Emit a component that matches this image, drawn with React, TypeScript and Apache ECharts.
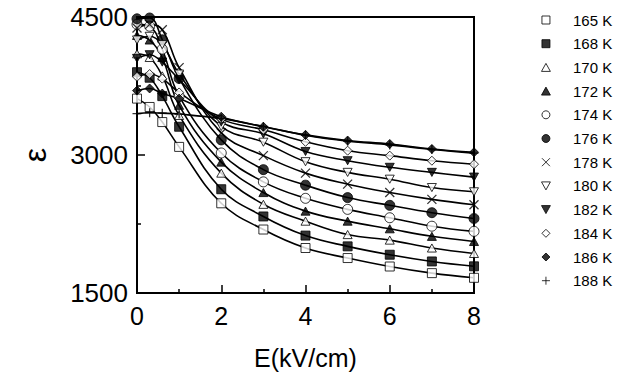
import React, { useEffect, useRef } from 'react';
import * as echarts from 'echarts';

// Field values (kV/cm) at which the permittivity was measured
const fieldValues = [0, 0.3, 0.6, 1, 2, 3, 4, 5, 6, 7, 8];

// Temperature labels
const temperatures = ['165 K', '168 K', '170 K', '172 K', '174 K', '176 K', '178 K', '180 K', '182 K', '184 K', '186 K', '188 K'];

// Permittivity values, one array per temperature
const eps165 = [3613, 3522, 3358, 3088, 2475, 2190, 1989, 1880, 1788, 1716, 1665];
const eps168 = [3900, 3840, 3640, 3307, 2628, 2332, 2124, 2007, 1916, 1843, 1790];
const eps170 = [4100, 4060, 3860, 3430, 2803, 2464, 2281, 2135, 2075, 1989, 1930];
const eps172 = [4300, 4250, 4060, 3540, 2923, 2592, 2390, 2281, 2198, 2116, 2060];
const eps174 = [4420, 4400, 4150, 3640, 3022, 2708, 2529, 2409, 2318, 2226, 2170];
const eps176 = [4480, 4489, 4252, 3832, 3164, 2841, 2672, 2537, 2453, 2373, 2310];
const eps178 = [4380, 4420, 4362, 3950, 3240, 2993, 2803, 2683, 2592, 2518, 2460];
const eps180 = [4250, 4290, 4200, 3880, 3310, 3139, 2927, 2811, 2737, 2646, 2600];
const eps182 = [4050, 4090, 4010, 3820, 3360, 3230, 3038, 2938, 2866, 2811, 2760];
const eps184 = [3850, 3880, 3830, 3680, 3390, 3274, 3143, 3047, 2993, 2938, 2900];
const eps186 = [3700, 3723, 3668, 3613, 3416, 3307, 3219, 3157, 3120, 3066, 3030];
const eps188 = [3450, 3460, 3455, 3445, 3395, 3310, 3215, 3150, 3110, 3060, 3020];

const allEps = [eps165, eps168, eps170, eps172, eps174, eps176, eps178, eps180, eps182, eps184, eps186, eps188];

// Marker symbols
const SQUARE = 'path://M0,0L10,0L10,10L0,10Z';
const TRI_UP = 'path://M5,0L10,9L0,9Z';
const TRI_DOWN = 'path://M0,0L10,0L5,9Z';
const DIAMOND = 'path://M5,0L10,5L5,10L0,5Z';
const CROSS = 'path://M0,0L10,10M10,0L0,10';
const PLUS = 'path://M5,0L5,10M0,5L10,5';
const markerSymbols = [SQUARE, SQUARE, TRI_UP, TRI_UP, 'circle', 'circle', CROSS, TRI_DOWN, TRI_DOWN, DIAMOND, DIAMOND, PLUS];
const markerFilled = [false, true, false, true, false, true, false, false, true, false, true, false];
const markerStroke = [false, false, false, false, false, false, true, false, false, false, false, true];

const FONT = '"Liberation Sans", Arial, sans-serif';

export default function App() {
  const ref = useRef<HTMLDivElement>(null);
  useEffect(() => {
    if (!ref.current) return;
    const chart = echarts.init(ref.current, null, { renderer: 'svg' });
    const series: any[] = [];
    temperatures.forEach((t, i) => {
      const pts = fieldValues.map((e, j) => [e, allEps[i][j]]);
      series.push({
        type: 'line',
        name: t + ' fit',
        data: pts,
        smooth: 0.4,
        symbol: 'none',
        showSymbol: false,
        silent: true,
        lineStyle: { color: '#000', width: 1.6 },
        z: 2,
      });
    });
    temperatures.forEach((t, i) => {
      const pts = fieldValues.map((e, j) => [e, allEps[i][j]]);
      const stroke = markerStroke[i];
      series.push({
        type: 'scatter',
        name: t,
        data: pts,
        symbol: markerSymbols[i],
        symbolSize: markerSymbols[i] === 'circle' ? 10 : 9,
        symbolKeepAspect: true,
        itemStyle: stroke
          ? { color: 'transparent', borderColor: '#000', borderWidth: 1.3 }
          : { color: markerFilled[i] ? '#000' : '#fff', borderColor: '#000', borderWidth: 1 },
        z: 3,
      });
    });
    chart.setOption({
      animation: false,
      backgroundColor: '#fff',
      grid: { left: 137, top: 17, width: 337, height: 276, show: true, borderColor: '#000', borderWidth: 2, backgroundColor: 'transparent' },
      legend: {
        data: temperatures,
        orient: 'vertical',
        left: 536,
        top: 7,
        itemWidth: 44,
        itemHeight: 8,
        itemGap: 7.7,
        symbolKeepAspect: true,
        selectedMode: false,
        itemStyle: { borderWidth: 1 },
        textStyle: { fontSize: 15, color: '#000', fontFamily: FONT, lineHeight: 16 },
      },
      xAxis: {
        type: 'value',
        min: 0,
        max: 8,
        interval: 2,
        name: 'E(kV/cm)',
        nameLocation: 'middle',
        nameGap: 52,
        nameTextStyle: { fontSize: 25, color: '#000', fontFamily: FONT },
        axisLine: { lineStyle: { color: '#000', width: 2 } },
        axisTick: { inside: true, length: 8, lineStyle: { color: '#000', width: 1.5 } },
        minorTick: { show: true, splitNumber: 2, length: 4, lineStyle: { color: '#000', width: 1.5 } },
        splitLine: { show: false },
        axisLabel: { color: '#000', fontSize: 25, margin: 10, fontFamily: FONT, formatter: (v: number) => String(v) },
      },
      yAxis: {
        type: 'value',
        min: 1500,
        max: 4500,
        interval: 1500,
        name: 'ε',
        nameLocation: 'middle',
        nameRotate: 90,
        nameGap: 86,
        nameTextStyle: { fontSize: 32, color: '#000', fontFamily: FONT },
        axisLine: { lineStyle: { color: '#000', width: 2 } },
        axisTick: { inside: true, length: 8, lineStyle: { color: '#000', width: 1.5 } },
        minorTick: { show: true, splitNumber: 2, length: 4, lineStyle: { color: '#000', width: 1.5 } },
        splitLine: { show: false },
        axisLabel: { color: '#000', fontSize: 26, margin: 9, fontFamily: FONT, formatter: (v: number) => String(v) },
      },
      series,
    });
    return () => chart.dispose();
  }, []);
  return <div ref={ref} style={{ position: 'absolute', left: 0, top: 0, width: 633, height: 379, background: '#fff' }} />;
}
